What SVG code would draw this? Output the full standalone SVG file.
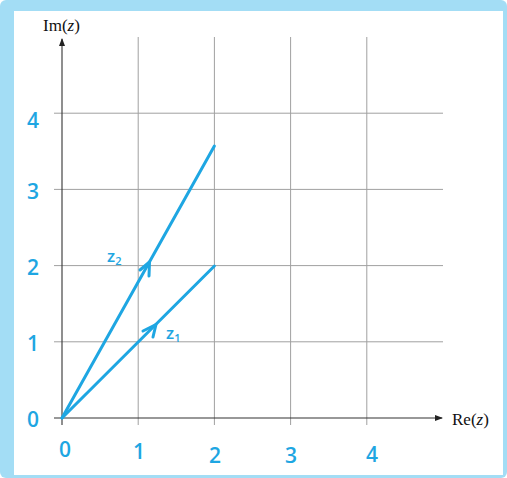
<svg xmlns="http://www.w3.org/2000/svg" width="507" height="478" viewBox="0 0 507 478">
<style>
.grid{stroke:#a0a0a0;stroke-width:1;fill:none}
.axis{stroke:#333;stroke-width:1.1;fill:none}
.vec{stroke:#1ea6e2;stroke-width:3;fill:none;stroke-linecap:round;stroke-linejoin:round}
.num{font-family:"Open Sans","DejaVu Sans",sans-serif;font-size:21px;font-weight:600;fill:#1ea6e2;text-anchor:middle}
.lab{font-family:"Liberation Serif",serif;font-size:17px;fill:#111}
.vl{font-family:"Open Sans","DejaVu Sans",sans-serif;font-size:17px;font-weight:600;fill:#1ea6e2}
</style>
<defs>
<marker id="ah" markerWidth="8" markerHeight="6" refX="7" refY="3" orient="auto" markerUnits="userSpaceOnUse">
<path d="M0,0 L8,3 L0,6 Z" fill="#222"/>
</marker>
</defs>
<g id="frame">
<rect x="0" y="0" width="507" height="478" rx="6" fill="#a3ddf5"/>
<rect x="14" y="11" width="489" height="464" fill="#fff"/>
</g>
<g id="grid">
<line class="grid" x1="138.2" y1="37" x2="138.2" y2="425"/>
<line class="grid" x1="214.4" y1="37" x2="214.4" y2="425"/>
<line class="grid" x1="290.6" y1="37" x2="290.6" y2="425"/>
<line class="grid" x1="366.8" y1="37" x2="366.8" y2="425"/>
<line class="grid" x1="54" y1="113.2" x2="443" y2="113.2"/>
<line class="grid" x1="54" y1="189.4" x2="443" y2="189.4"/>
<line class="grid" x1="54" y1="265.6" x2="443" y2="265.6"/>
<line class="grid" x1="54" y1="341.8" x2="443" y2="341.8"/>
</g>
<g id="axes">
<line class="axis" x1="54" y1="418" x2="442" y2="418" marker-end="url(#ah)"/>
<line class="axis" x1="62" y1="425" x2="62" y2="39" marker-end="url(#ah)"/>
<text class="lab" x="43" y="31">Im(<tspan font-style="italic">z</tspan>)</text>
<text class="lab" x="452" y="425">Re(<tspan font-style="italic">z</tspan>)</text>
</g>
<g id="ylabels">
<text class="num" x="33" y="128">4</text>
<text class="num" x="33" y="199">3</text>
<text class="num" x="33" y="275">2</text>
<text class="num" x="33" y="351">1</text>
<text class="num" x="33" y="427">0</text>
</g>
<g id="xlabels">
<text class="num" x="65" y="457">0</text>
<text class="num" x="139" y="459">1</text>
<text class="num" x="215" y="463">2</text>
<text class="num" x="291" y="463">3</text>
<text class="num" x="372" y="462">4</text>
</g>
<g id="connectors">
<g id="z1">
<line class="vec" x1="62" y1="418" x2="214.4" y2="266"/>
<path class="vec" d="M143,331 L156,324.5 L153,337"/>
<text class="vl" x="166" y="339">z<tspan font-size="11" dy="3">1</tspan></text>
</g>
<g id="z2">
<line class="vec" x1="62" y1="418" x2="214.4" y2="146"/>
<path class="vec" d="M140,270 L149.5,262 L149,276"/>
<text class="vl" x="107" y="262">z<tspan font-size="11" dy="3">2</tspan></text>
</g>
</g>
</svg>
